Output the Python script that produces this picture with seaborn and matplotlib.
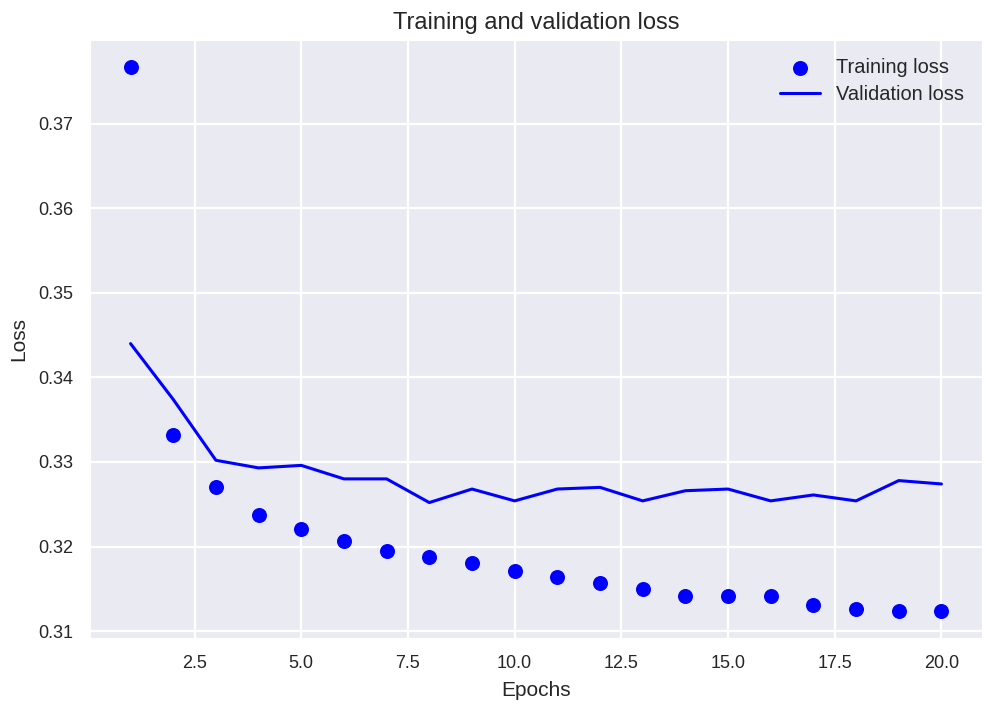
import numpy as np
import pandas as pd
import seaborn as sns
import matplotlib
matplotlib.use("Agg")
import matplotlib.pyplot as plt

# values
epochs = list(range(1, 21))
training_loss = [0.3767, 0.3332, 0.3270, 0.3237, 0.3221, 0.3207, 0.3195, 0.3188, 0.3180, 0.3171,
                 0.3164, 0.3157, 0.3150, 0.3141, 0.3141, 0.3141, 0.3131, 0.3126, 0.3124, 0.3124]
validation_loss = [0.3440, 0.3374, 0.3302, 0.3293, 0.3296, 0.3280, 0.3280, 0.3252, 0.3268, 0.3254,
                   0.3268, 0.3270, 0.3254, 0.3266, 0.3268, 0.3254, 0.3261, 0.3254, 0.3278, 0.3274]

df = pd.DataFrame({"epoch": epochs, "train": training_loss, "val": validation_loss})

sns.set_style("darkgrid", {"grid.linewidth": 1.6})
plt.rcParams['font.family'] = ['Liberation Sans', 'DejaVu Sans']
plt.rcParams['text.color'] = '.15'
plt.rcParams['axes.labelcolor'] = '.15'
plt.rcParams['xtick.color'] = '.15'
plt.rcParams['ytick.color'] = '.15'

fig = plt.figure(figsize=(9.86, 7.04), dpi=100)
ax = fig.add_axes([0.0913, 0.0938, 0.9046, 0.8494])

sns.scatterplot(data=df, x="epoch", y="train", color='b', s=117, linewidth=0,
                label='Training loss', ax=ax)
sns.lineplot(data=df, x="epoch", y="val", color='b', linewidth=2.2,
             label='Validation loss', ax=ax)

ax.set_title("Training and validation loss", fontsize=17, pad=8)
ax.set_xlabel("Epochs", fontsize=15, labelpad=7)
ax.set_ylabel("Loss", fontsize=15, labelpad=7)
ax.tick_params(labelsize=13, pad=8.5)
ax.grid(linewidth=1.6)
ax.margins(0.05)
ax.legend(loc='upper right', frameon=False, fontsize=14.4, labelspacing=0.4)

fig.savefig("out.png", dpi=100)
